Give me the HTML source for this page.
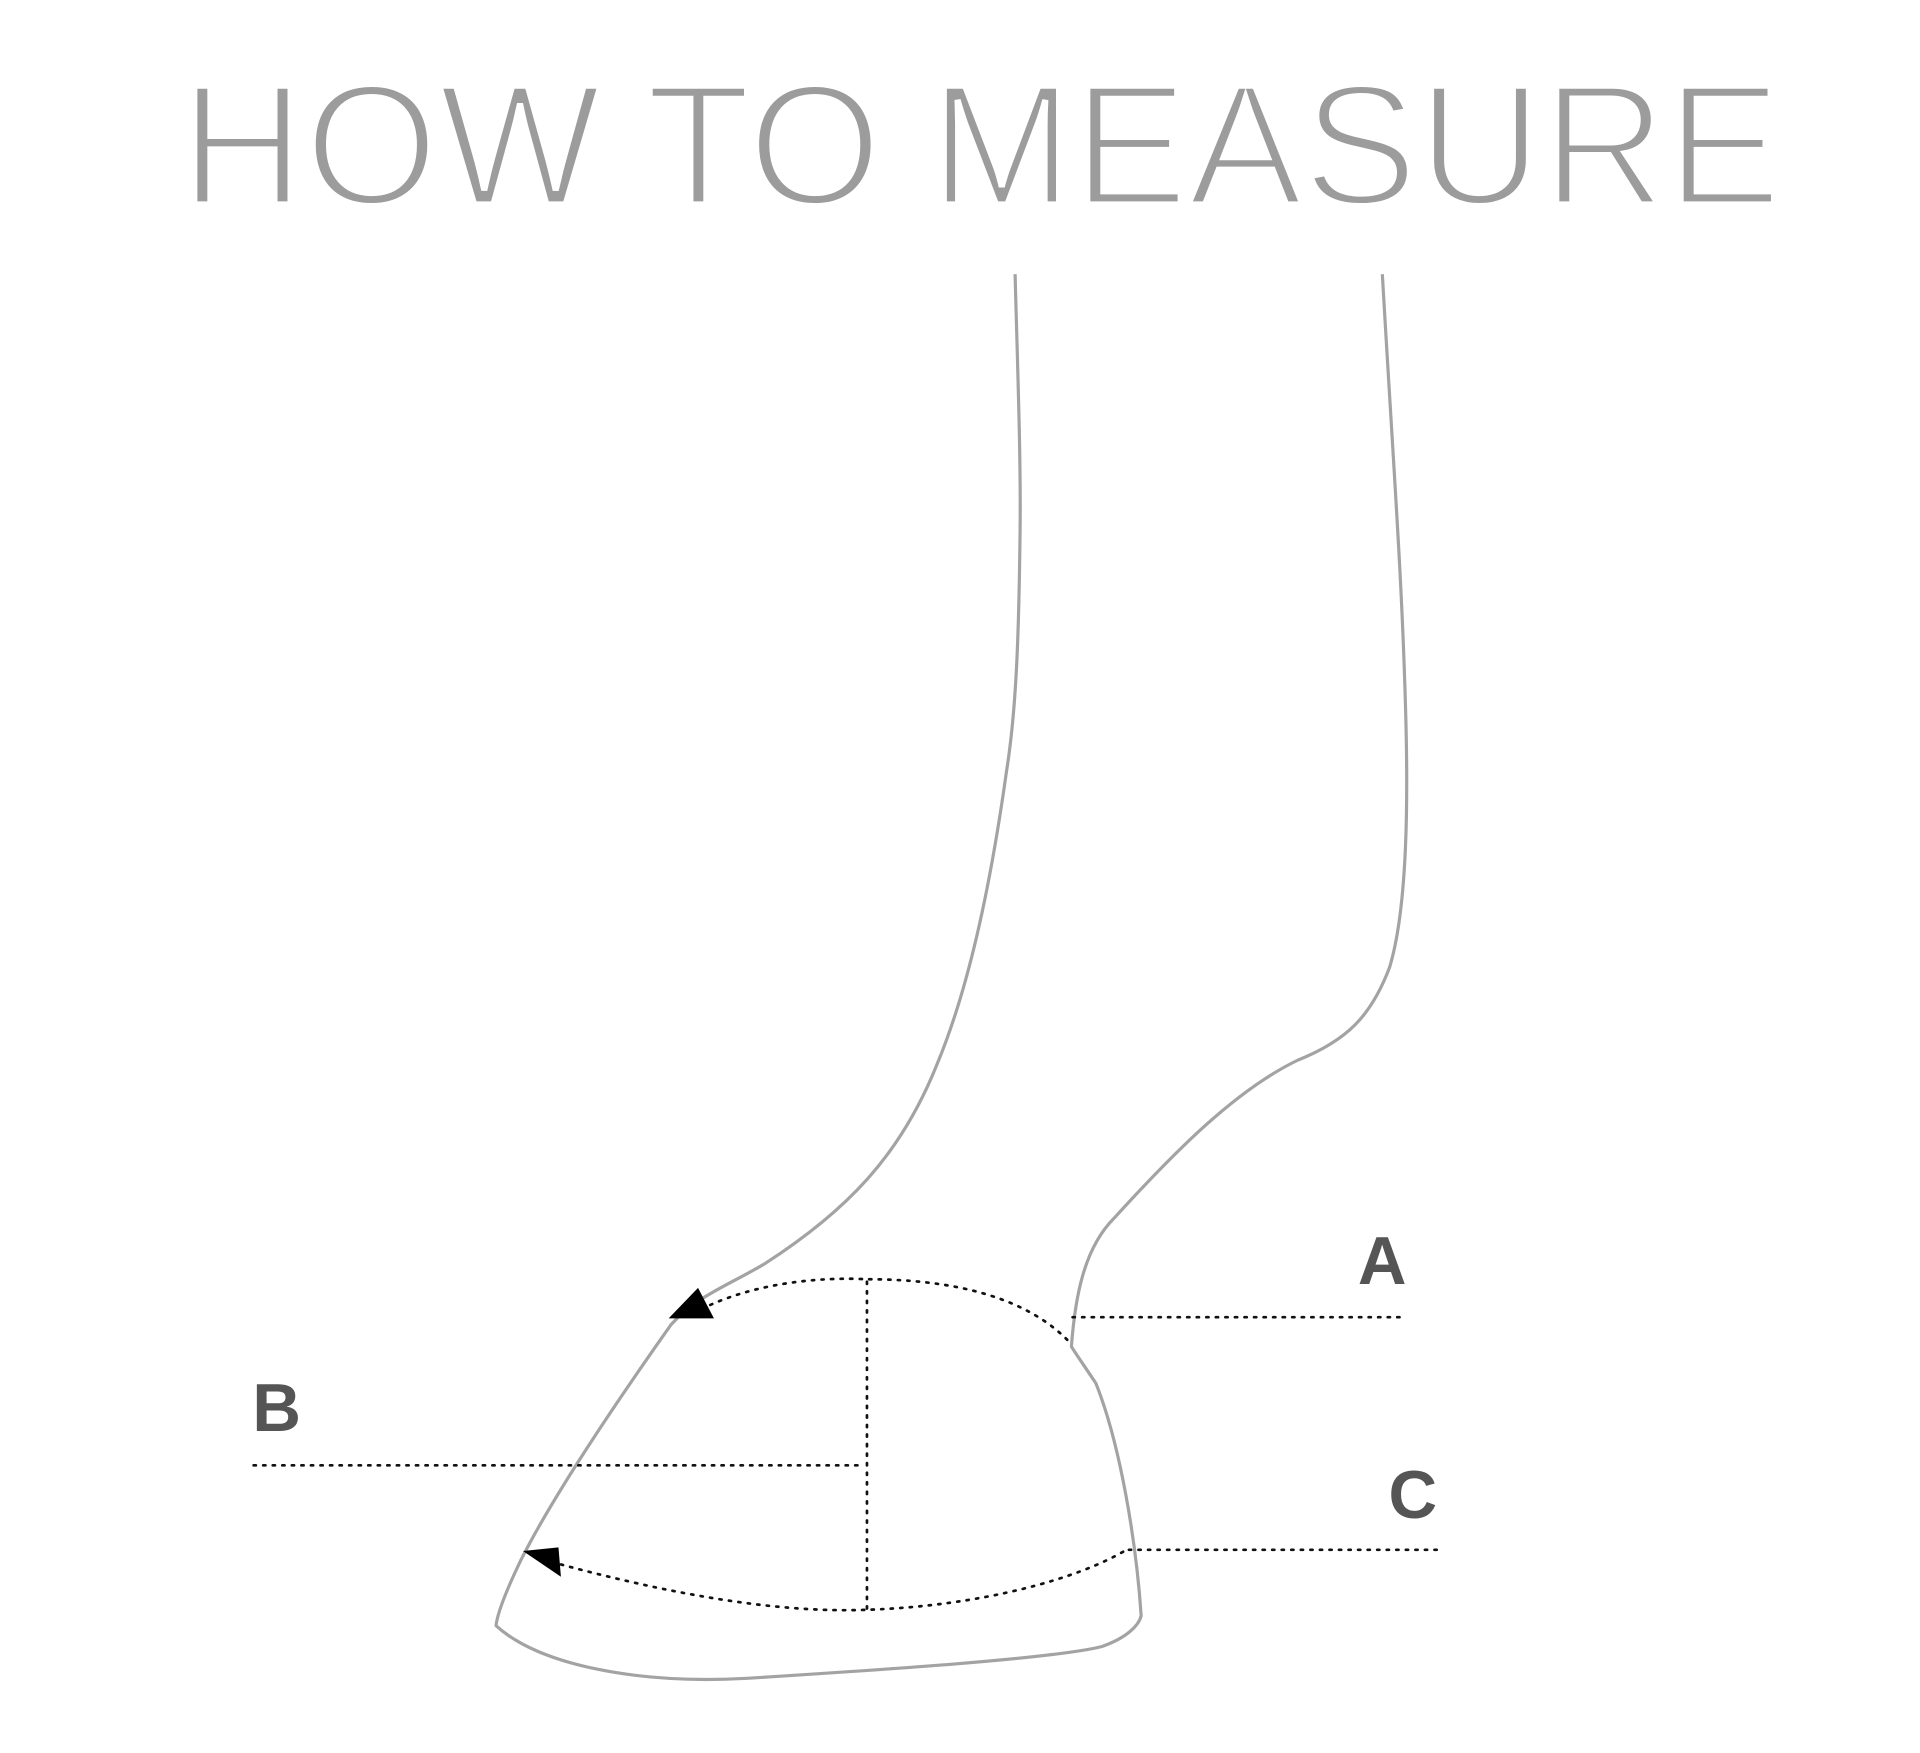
<!DOCTYPE html>
<html><head><meta charset="utf-8"><style>
html,body{margin:0;padding:0;background:#fff;}
svg{display:block;}
</style></head><body>
<svg width="1920" height="1753" viewBox="0 0 1568 1432" xmlns="http://www.w3.org/2000/svg">
<rect width="1568" height="1432" fill="#fff"/>
<text x="147" y="167" font-family="Liberation Sans, sans-serif" font-size="141" fill="#9c9c9c" stroke="#fff" stroke-width="5" textLength="1308" lengthAdjust="spacingAndGlyphs">HOW TO MEASURE</text>
<g fill="none" stroke="#a3a3a3" stroke-width="2.6" stroke-linejoin="round">
<path d="M829,224 C831,300 834,380 833,440 C832,520 830,580 822,630 C808,730 790,810 765,870 C735,945 690,990 625,1032 C595,1050 570,1058 548,1082 C500,1150 450,1225 425,1275 C414,1298 406,1318 405,1328 C440,1360 520,1376 610,1371 C720,1364 860,1355 900,1345 C920,1338 930,1328 932,1320 C928,1260 915,1180 895,1130 C885,1115 878,1105 875,1100 C878,1060 885,1020 910,995 C960,940 1010,890 1060,866 C1100,850 1120,830 1135,790 C1150,740 1150,650 1148,580 C1145,470 1138,380 1129,224"/>
</g>
<g fill="none" stroke="#111" stroke-width="2.2" stroke-dasharray="1.8 6" stroke-linecap="round">
<path d="M580,1066 C620,1048 670,1043 708,1045 C780,1045 840,1060 875,1098"/>
<path d="M876,1076 L1148,1076"/>
<path d="M708,1047 L708,1315"/>
<path d="M207,1197 L706,1197"/>
<path d="M458,1278 C540,1300 630,1318 708,1315 C800,1312 880,1290 920,1266"/>
<path d="M922,1266 L1175,1266"/>
</g>
<polygon points="546,1077 570,1052 583,1077" fill="#000"/>
<polygon points="427,1267 456,1264 458,1288" fill="#000"/>
<g font-family="Liberation Sans, sans-serif" font-size="55" font-weight="bold" fill="#555">
<text x="1109" y="1049">A</text>
<text x="206" y="1169">B</text>
<text x="1134" y="1240">C</text>
</g>
</svg>
</body></html>
